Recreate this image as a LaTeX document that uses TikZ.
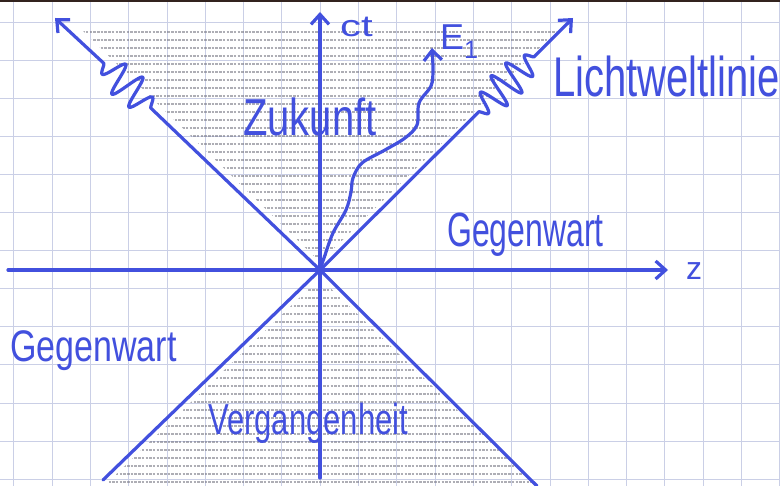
\documentclass[tikz,border=0pt]{standalone}
\usepackage{fontspec}
\usepackage{graphicx}
\setmainfont{Liberation Sans}
\usetikzlibrary{arrows.meta}
\definecolor{ink}{RGB}{66,80,222}
\definecolor{gridc}{RGB}{202,207,230}
\definecolor{hatchc}{RGB}{120,120,132}
\definecolor{edgec}{RGB}{50,35,30}
\begin{document}
\begin{tikzpicture}[x=1pt,y=-1pt,
  inkline/.style={draw=ink, line width=3.2pt, line cap=round, line join=round},
  tipped/.style={-{Straight Barb[length=10pt,width=18pt]}},
  gridline/.style={draw=gridc, line width=0.8pt},
  hatchline/.style={draw=hatchc, line width=1.4pt, dash pattern=on 2.5pt off 1.2pt, opacity=0.6},
  lbl/.style={text=ink, inner sep=0pt, anchor=base west}]
\useasboundingbox (0,0) rectangle (780,486);
\fill[white] (0,0) rectangle (780,486);
% graph paper
\foreach \i in {0,...,20} \draw[gridline] ({13.7+38.3*\i},0) -- ({13.7+38.3*\i},486);
\foreach \j in {0,...,12} \draw[gridline] (0,{22+38.1*\j}) -- (780,{22+38.1*\j});
\fill[edgec] (0,0) rectangle (780,2.5);
% shading of the cones
\begin{scope}
  \clip (320,262) -- (80,28) -- (560,28) -- cycle;
  \foreach \y in {32,40,...,262} \draw[hatchline] (60,\y) -- (580,\y);
\end{scope}
\begin{scope}
  \clip (320,278) -- (104,486) -- (536,486) -- cycle;
  \foreach \y in {290,298,...,484} \draw[hatchline] (90,\y) -- (560,\y);
\end{scope}
% coordinates
\coordinate (O) at (320,270);
\coordinate (ctTop) at (320,12);
\coordinate (ctBot) at (320,478);
\coordinate (zL) at (8,270);
\coordinate (zR) at (668,270);
\coordinate (UL) at (55,18);
\coordinate (UR) at (573,18);
\coordinate (LL) at (103,480);
\coordinate (LR) at (537,486);
\coordinate (E1) at (432,48);
% axes
\draw[inkline, tipped] (ctBot) -- (ctTop);
\draw[inkline, tipped] (zL) -- (zR);
% light lines
\draw[inkline] (LL) -- (O) -- (LR);
\draw[inkline, tipped] (O) -- plot[domain=0:65, samples=160, variable=\s]
  ({150.86-0.724*\s+0.689*17*sqrt(abs(sin(2.769*\s)))*sin(16.615*\s)},
   {108.09-0.689*\s-0.724*17*sqrt(abs(sin(2.769*\s)))*sin(16.615*\s)}) -- (UL);
\draw[inkline, tipped] (O) -- plot[domain=0:78, samples=180, variable=\s]
  ({478.82+0.709*\s+0.706*17*sqrt(abs(sin(2.3077*\s)))*sin(18.4615*\s)},
   {111.86-0.706*\s+0.709*17*sqrt(abs(sin(2.3077*\s)))*sin(18.4615*\s)}) -- (UR);
% world line E1
\draw[inkline, tipped] plot[smooth, tension=0.55] coordinates {(O) (324,258) (333,233) (346,210) (351,192) (353,178) (362,163) (385,150) (405,138) (417,125) (419,103) (431,86) (433,70) (E1)};
% labels
\node[lbl, font=\fontsize{30}{30}\selectfont] (ct) at (340,37) {\scalebox{1.4}[1]{ct}};
\node[lbl, font=\fontsize{36}{36}\selectfont] (e1lbl) at (440,50) {E\textsubscript{1}};
\node[lbl, font=\fontsize{40}{40}\selectfont] (lwl) at (553,97) {\scalebox{1}[1.4]{Lichtweltlinie}};
\node[lbl, font=\fontsize{40}{40}\selectfont] (zuk) at (243,136) {\scalebox{1}[1.3]{Zukunft}};
\node[lbl, font=\fontsize{32}{32}\selectfont] (gegR) at (447,247) {\scalebox{1}[1.5]{Gegenwart}};
\node[lbl, font=\fontsize{34}{34}\selectfont] (gegL) at (10,362) {\scalebox{1}[1.3]{Gegenwart}};
\node[lbl, font=\fontsize{31}{31}\selectfont] (verg) at (208,435) {\scalebox{1}[1.4]{Vergangenheit}};
\node[lbl, font=\fontsize{32}{32}\selectfont] (zlbl) at (686,280) {z};
\end{tikzpicture}
\end{document}
